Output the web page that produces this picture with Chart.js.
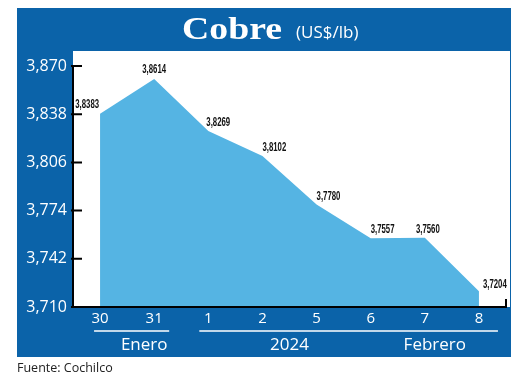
<!DOCTYPE html>
<html>
<head>
<meta charset="utf-8">
<script src="https://cdn.jsdelivr.net/npm/chart.js@4/dist/chart.umd.min.js"></script>
<style>
  html, body { margin: 0; padding: 0; background: #fff; }
  #wrap { width: 520px; height: 378px; }
</style>
</head>
<body>
<div id="wrap"><canvas id="cobreChart" width="520" height="378"></canvas></div>
<script>
const dias = ['30', '31', '1', '2', '5', '6', '7', '8'];
const precios = [3.8383, 3.8614, 3.8269, 3.8102, 3.7780, 3.7557, 3.7560, 3.7204];
const yTicks = [3.710, 3.742, 3.774, 3.806, 3.838, 3.870];
const meses = ['Enero', '2024', 'Febrero'];

const azul = '#0b63a9';
const celeste = '#55b4e3';

const fmt = (v, d) => v.toFixed(d).replace('.', ',');

// label placement per point: [align, dx, dy]
const labelPos = [
    ['right', -1, -3], ['center', 0, -3], ['left', -2, -2], ['left', 0, -2],
    ['left', 0, -2], ['left', 0, -2], ['center', 3, -2], ['left', 4, 0]
];

const marco = {
    id: 'marco',
    beforeDraw(chart) {
        const ctx = chart.ctx;
        const a = chart.chartArea;
        ctx.save();
        ctx.fillStyle = azul;
        ctx.fillRect(17, 8, 494, 349);
        ctx.fillStyle = '#fff';
        ctx.fillRect(a.left, 51, 510 - a.left, a.bottom - 51);
        ctx.restore();
    },
    afterDatasetsDraw(chart) {
        const ctx = chart.ctx;
        const meta = chart.getDatasetMeta(0);
        ctx.save();
        ctx.fillStyle = '#111';
        ctx.font = 'bold 13px "Liberation Sans", sans-serif';
        ctx.textBaseline = 'bottom';
        meta.data.forEach((pt, i) => {
            const [al, dx, dy] = labelPos[i];
            ctx.save();
            ctx.translate(pt.x + dx, pt.y + dy);
            ctx.scale(0.6, 1);
            ctx.textAlign = al;
            ctx.fillText(fmt(precios[i], 4), 0, 0);
            ctx.restore();
        });
        ctx.restore();
    },
    afterDraw(chart) {
        const ctx = chart.ctx;
        const a = chart.chartArea;
        const x = chart.scales.x;
        const y = chart.scales.y;
        ctx.save();

        // axes
        ctx.strokeStyle = '#000';
        ctx.lineWidth = 2;
        ctx.beginPath();
        ctx.moveTo(a.left, y.getPixelForValue(3.870));
        ctx.lineTo(a.left, a.bottom);
        ctx.lineTo(a.right, a.bottom);
        ctx.lineTo(a.right, a.bottom - 8);
        yTicks.forEach(v => {
            const py = y.getPixelForValue(v);
            ctx.moveTo(a.left - 2, py);
            ctx.lineTo(a.left + 9, py);
        });
        ctx.stroke();

        // title
        ctx.fillStyle = '#fff';
        ctx.textBaseline = 'alphabetic';
        ctx.textAlign = 'left';
        ctx.font = 'bold 32px "Liberation Serif", serif';
        ctx.save();
        ctx.translate(182, 39);
        ctx.scale(1.18, 1);
        ctx.fillText('Cobre', 0, 0);
        ctx.restore();
        ctx.font = '17px "Open Sans", sans-serif';
        ctx.fillText('(US$/lb)', 296, 38);

        // month groups
        const by = 331;
        ctx.strokeStyle = '#fff';
        ctx.lineWidth = 1.5;
        ctx.beginPath();
        ctx.moveTo(x.getPixelForValue(0) - 6, by);
        ctx.lineTo(x.getPixelForValue(1) + 15, by);
        ctx.moveTo(x.getPixelForValue(2) - 9, by);
        ctx.lineTo(x.getPixelForValue(7) + 19, by);
        ctx.stroke();
        ctx.font = '17px "Open Sans", sans-serif';
        ctx.textAlign = 'center';
        ctx.textBaseline = 'middle';
        ctx.fillText(meses[0], x.getPixelForValue(1) - 10, 345);
        ctx.fillText(meses[1], (x.getPixelForValue(3) + x.getPixelForValue(4)) / 2, 345);
        ctx.fillText(meses[2], x.getPixelForValue(6) + 10, 345);

        // source
        ctx.fillStyle = '#222';
        ctx.textAlign = 'left';
        ctx.font = '12.5px "Open Sans", sans-serif';
        ctx.fillText('Fuente: Cochilco', 17, 368);
        ctx.restore();
    }
};

new Chart(document.getElementById('cobreChart'), {
    type: 'line',
    data: {
        labels: dias,
        datasets: [{
            data: precios,
            fill: 'start',
            backgroundColor: celeste,
            borderWidth: 0,
            pointRadius: 0,
            tension: 0
        }]
    },
    options: {
        responsive: false,
        animation: false,
        events: [],
        layout: { padding: { top: 66, right: 14, left: 0, bottom: 0 } },
        plugins: { legend: { display: false }, tooltip: { enabled: false } },
        scales: {
            x: {
                offset: true,
                grid: { display: false, drawTicks: false },
                border: { display: false },
                ticks: { color: '#fff', padding: 3, font: { family: 'Open Sans', size: 15 } },
                afterFit(s) { s.height = 71; }
            },
            y: {
                min: 3.710,
                max: 3.870,
                grid: { display: false, drawTicks: false },
                border: { display: false },
                afterBuildTicks(s) { s.ticks = yTicks.map(v => ({ value: v })); },
                ticks: {
                    color: '#fff',
                    padding: 6,
                    font: { family: 'Open Sans', size: 16 },
                    callback: v => fmt(v, 3)
                },
                afterFit(s) { s.width = 73; }
            }
        }
    },
    plugins: [marco]
});
</script>
</body>
</html>
